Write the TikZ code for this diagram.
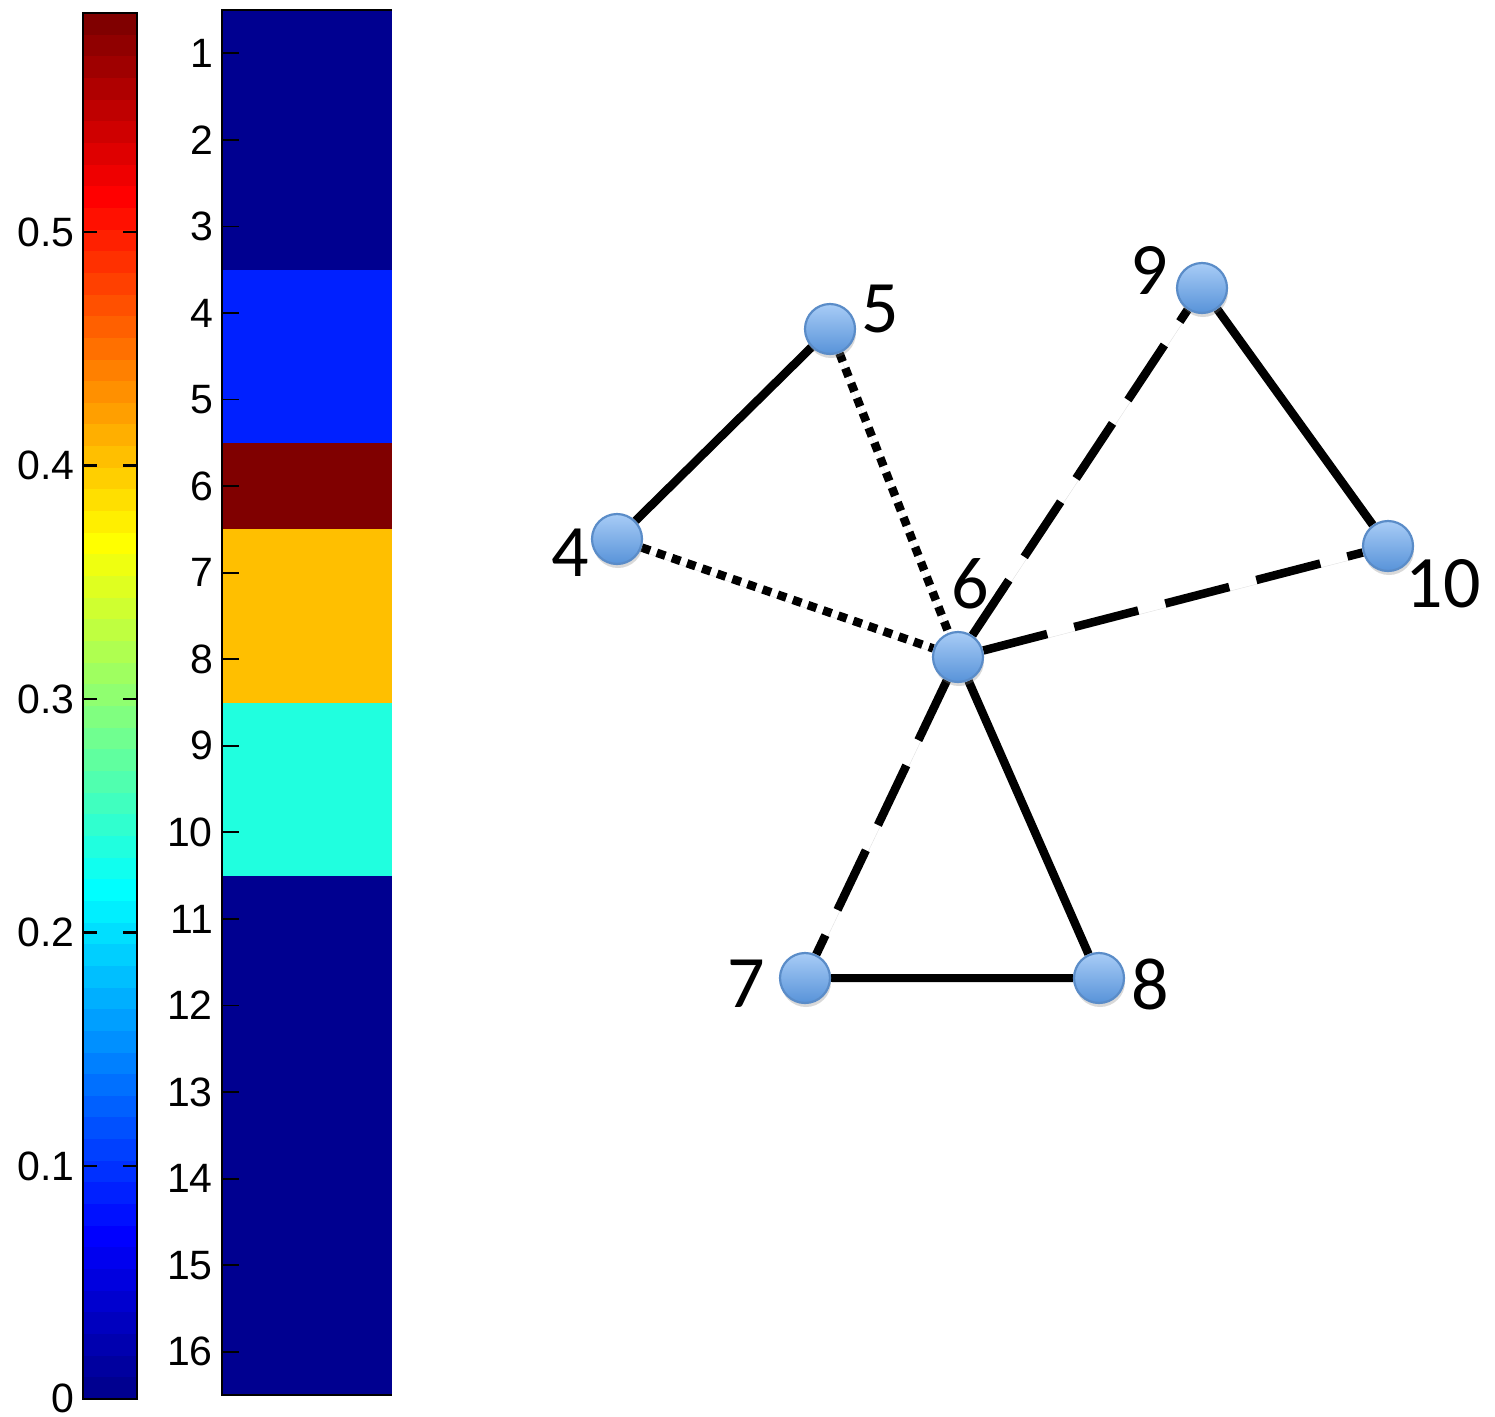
\documentclass[tikz,border=0pt]{standalone}
\usepackage{fontspec}
\setmainfont{Liberation Sans}
\newfontfamily\lblfont{Carlito}
\usetikzlibrary{shadows}
\pgfdeclarelayer{bg}
\pgfsetlayers{bg,main}
\definecolor{nodeedge}{RGB}{90,140,200}
\definecolor{nodetop}{RGB}{168,204,246}
\definecolor{nodebot}{RGB}{88,147,217}
\definecolor{jetA}{rgb}{0,0,0.5625}
\definecolor{jetB}{rgb}{0,0.125,1}
\definecolor{jetC}{rgb}{0.5,0,0}
\definecolor{jetD}{rgb}{1,0.75,0}
\definecolor{jetE}{rgb}{0.125,1,0.875}
\begin{document}
\begin{tikzpicture}[x=1pt,y=-1pt,
  declare function={ju(\k)=((\k<1)||(\k>47))?0:((\k<=16)?(\k/16):((\k<=31)?1:((48-\k)/16)));},
  gnode/.style={circle, minimum size=50pt, inner sep=0pt, draw=nodeedge, line width=2.2pt,
    top color=nodetop, bottom color=nodebot,
    drop shadow={shadow xshift=1pt, shadow yshift=-4pt, opacity=0.3}},
  glabel/.style={font=\lblfont\fontsize{74}{74}\selectfont, inner sep=0pt},
  axlabel/.style={font=\fontsize{41}{41}\selectfont, anchor=east, inner sep=0pt},
  edgebase/.style={line width=8.5pt, line cap=butt,
    preaction={draw=black, opacity=0.12, transform canvas={shift={(1pt,-4pt)}}}},
  solidedge/.style={edgebase},
  dotedge/.style={edgebase, dash pattern=on 9pt off 7pt},
  dashedge/.style={edgebase, dash pattern=on 66pt off 28pt}
]
\useasboundingbox (0,0) rectangle (1495,1416);

% ---- colour bar ----
\foreach \i in {1,...,64} {
  \pgfmathsetmacro\jr{ju(\i-24)}
  \pgfmathsetmacro\jg{ju(\i-8)}
  \pgfmathsetmacro\jb{ju(\i+8)}
  \definecolor{jc}{rgb}{\jr,\jg,\jb}
  \fill[jc] (83,{1399-(\i-1)*21.656}) rectangle (137,{1399-\i*21.656-0.6});
}
\draw[line width=2.6pt] (83,13) rectangle (137,1399);
\foreach \v/\yy in {1/1166,2/932.5,3/699,4/465.5,5/232} {
  \draw[line width=2.2pt] (83,\yy) -- (97,\yy) (123,\yy) -- (137,\yy);
  \node[axlabel] (cb\v) at (75,\yy) {0.\v};
}
\node[axlabel] (cb0) at (75,1398) {0};

% ---- heat map column ----
\fill[jetA] (222,10) rectangle (392,269.7);
\fill[jetB] (222,269.7) rectangle (392,442.8);
\fill[jetC] (222,442.8) rectangle (392,529.4);
\fill[jetD] (222,529.4) rectangle (392,702.5);
\fill[jetE] (222,702.5) rectangle (392,875.6);
\fill[jetA] (222,875.6) rectangle (392,1395);
\draw[line width=2.6pt] (392,10) -- (222,10) -- (222,1395) -- (392,1395);
\foreach \k in {1,...,16} {
  \pgfmathsetmacro\yk{10+(\k-0.5)*86.5625}
  \draw[line width=1.8pt] (222,\yk) -- (239,\yk);
  \node[axlabel] (hm\k) at (213,\yk) {\k};
}

% ---- graph ----
\node[gnode] (n4) at (617,539) {};
\node[gnode] (n5) at (830,329) {};
\node[gnode] (n6) at (958,657) {};
\node[gnode] (n7) at (805,978) {};
\node[gnode] (n8) at (1099,978) {};
\node[gnode] (n9) at (1202,288) {};
\node[gnode] (n10) at (1388,546) {};

\node[glabel] (l4) at (570,553) {4};
\node[glabel] (l5) at (880,309) {5};
\node[glabel] (l6) at (970,584) {6};
\node[glabel] (l7) at (746,984) {7};
\node[glabel] (l8) at (1150,984) {8};
\node[glabel] (l9) at (1149,270) {9};
\node[glabel] (l10) at (1443,584) {10};

\begin{pgfonlayer}{bg}
\draw[solidedge] (n4) -- (n5);
\draw[dotedge] (n5) -- (n6);
\draw[dotedge] (n4) -- (n6);
\draw[dashedge] (n6) -- (n9);
\draw[dashedge] (n6) -- (n10);
\draw[dashedge] (n6) -- (n7);
\draw[solidedge] (n9) -- (n10);
\draw[solidedge] (n6) -- (n8);
\draw[solidedge] (n7) -- (n8);
\end{pgfonlayer}
\end{tikzpicture}
\end{document}
